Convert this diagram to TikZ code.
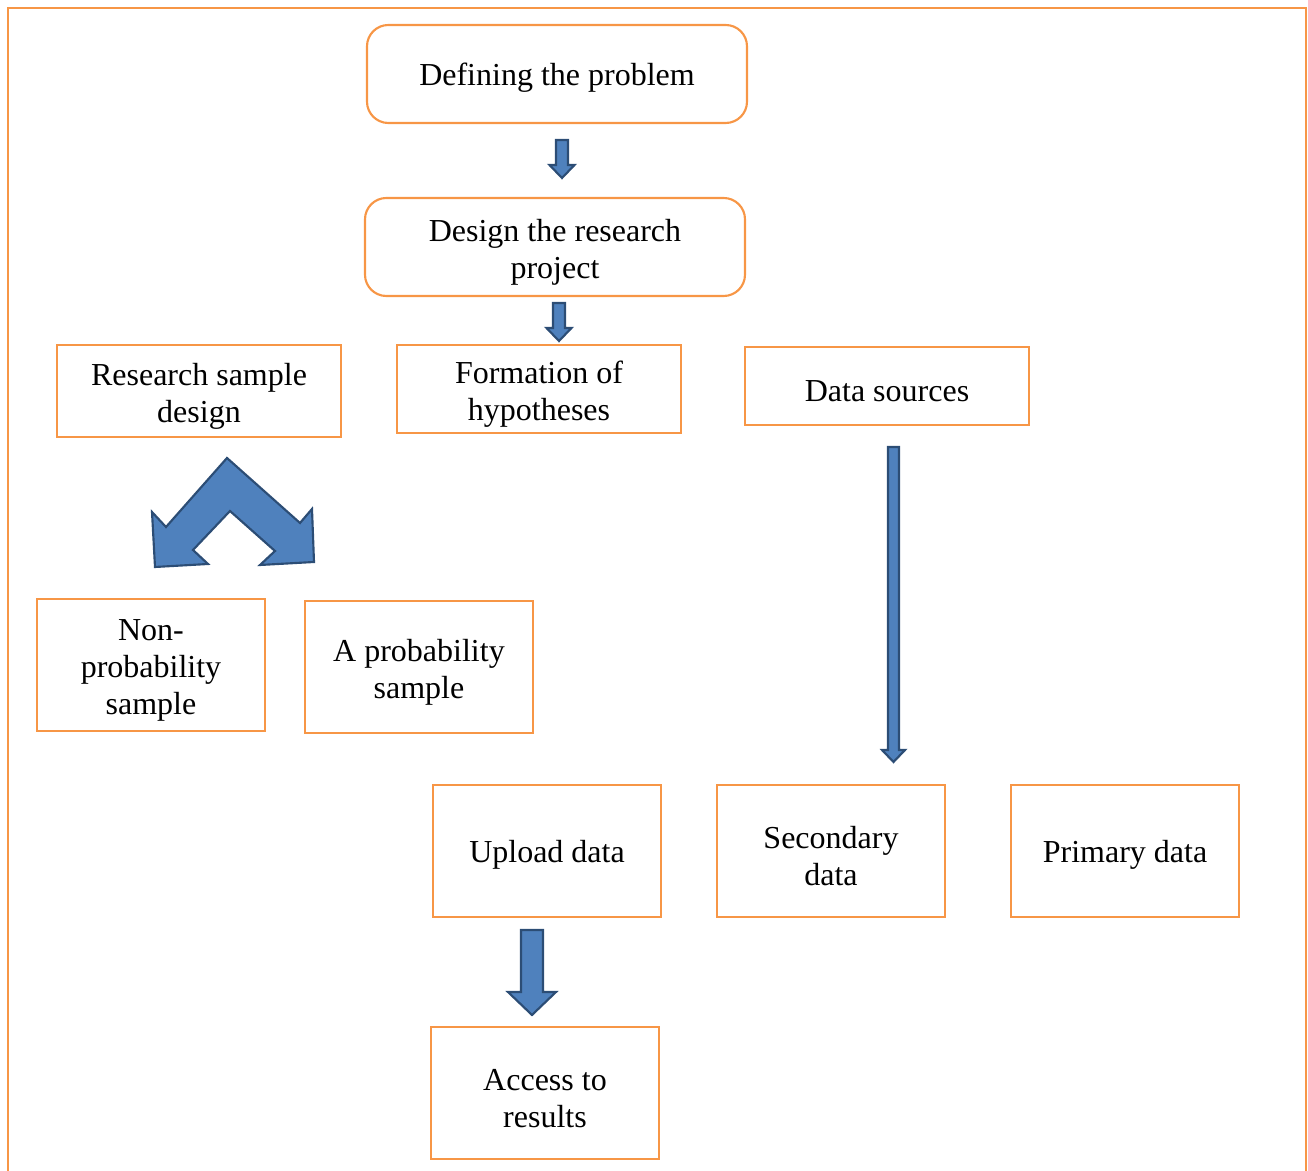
\documentclass[tikz,border=0pt]{standalone}
\usepackage{fontspec}
\setmainfont{Liberation Serif}
\usepackage{tikz}

\definecolor{boxorange}{HTML}{F79646}
\definecolor{arrowfill}{HTML}{4F81BD}
\definecolor{arrowline}{HTML}{2C4D75}

\newcommand{\blockdown}[6]{%
  \filldraw[blockarrow] (#1-#4,#2) -- (#1+#4,#2) -- (#1+#4,#3-#6) -- (#1+#5,#3-#6)
    -- (#1,#3) -- (#1-#5,#3-#6) -- (#1-#4,#3-#6) -- cycle;}

\begin{document}
\begin{tikzpicture}[x=0.375pt,y=-0.375pt,
        box/.style={draw=boxorange,line width=0.8pt,align=center,inner sep=0pt,
            font=\fontsize{12}{13.9}\selectfont,text height=11.5pt},
        twolines/.style={text height=26.3pt},
        threelines/.style={text height=39.5pt},
        roundbox/.style={box,rounded corners=8pt,minimum width=142.5pt,minimum height=36.75pt},
        topbox/.style={box,minimum width=106.5pt},
        lowbox/.style={box,minimum width=85.5pt,minimum height=49.5pt},
        blockarrow/.style={fill=arrowfill,draw=arrowline,line width=0.8pt,line join=miter},
        frame/.style={draw=boxorange,line width=1.1pt}]
            \useasboundingbox (0,0) rectangle (1308,1171);
            \draw[frame] (8,1200) -- (8,8) -- (1306,8) -- (1306,1200);

            \node[roundbox] (define) at (557,74) {Defining the problem};
            \node[roundbox,twolines] (design) at (555,247) {Design the research\\project};

            \node[topbox,twolines,minimum height=34.5pt] (sample) at (199,391) {Research sample\\design};
            \node[topbox,twolines,minimum height=33pt] (hypo) at (539,389) {Formation of\\hypotheses};
            \node[topbox,minimum height=29.25pt] (sources) at (887,386) {Data sources};

            \node[lowbox,threelines] (nonprob) at (151,665) {Non-\\probability\\sample};
            \node[lowbox,twolines] (prob) at (419,667) {A probability\\sample};

            \node[lowbox] (upload) at (547,851) {Upload data};
            \node[lowbox,twolines] (secondary) at (831,851) {Secondary\\data};
            \node[lowbox] (primary) at (1125,851) {Primary data};

            \node[lowbox,twolines] (results) at (545,1093) {Access to\\results};

            \blockdown{562}{140}{178}{6}{12.5}{13}
            \blockdown{559}{303}{341}{6}{12.5}{13}
            \blockdown{893.5}{447}{762}{5.5}{11.5}{12}
            \blockdown{532}{930}{1015}{11}{24}{23}

            \filldraw[blockarrow] (227,458) -- (300,523) -- (312,509) -- (314,562) -- (260,565)
                -- (275,551) -- (230,511) -- (193,550) -- (208,564) -- (155,567) -- (152,512)
                -- (166,527) -- cycle;
\end{tikzpicture}
\end{document}
